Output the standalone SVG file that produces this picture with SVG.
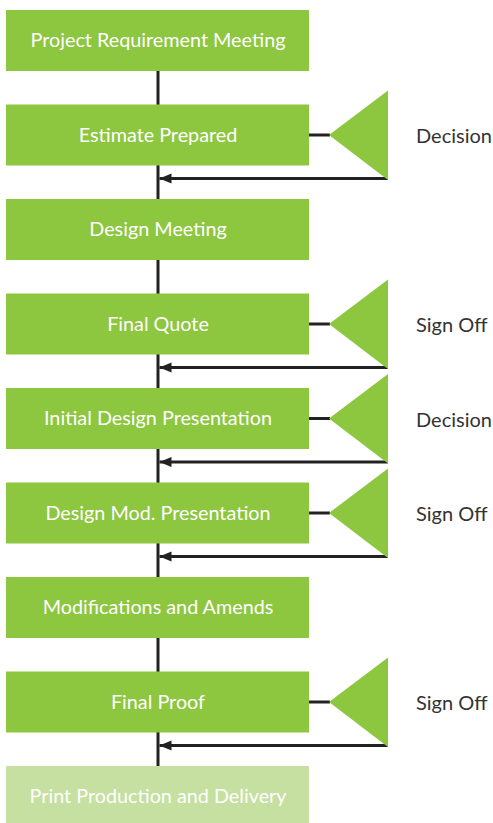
<svg xmlns="http://www.w3.org/2000/svg" width="493" height="823" viewBox="0 0 493 823">
<defs>
<style>
.box{fill:#8DC63F}
.box2{fill:#C5E0A0}
.t{font-family:Lato,"Open Sans",sans-serif;font-size:19.8px;fill:#fff;text-anchor:middle}
.lbl{font-family:Lato,"Open Sans",sans-serif;font-size:20px;fill:#333;text-anchor:start}
.tri{fill:#8DC63F}
.ln{stroke:#222;stroke-width:3;fill:none}
</style>
<marker id="ah" markerWidth="12" markerHeight="12" refX="12" refY="6" orient="auto" markerUnits="userSpaceOnUse" viewBox="0 0 12 12">
<path d="M0,1 L12,6 L0,11 Z" fill="#222"/>
</marker>
</defs>
<g id="connectors">
<line class="ln" x1="158" y1="71" x2="158" y2="766"/>
<line class="ln" x1="309" y1="135" x2="330" y2="135"/>
<line class="ln" x1="388" y1="178.5" x2="159.5" y2="178.5" marker-end="url(#ah)"/>
<line class="ln" x1="309" y1="324" x2="330" y2="324"/>
<line class="ln" x1="388" y1="367.5" x2="159.5" y2="367.5" marker-end="url(#ah)"/>
<line class="ln" x1="309" y1="418.5" x2="330" y2="418.5"/>
<line class="ln" x1="388" y1="462" x2="159.5" y2="462" marker-end="url(#ah)"/>
<line class="ln" x1="309" y1="513" x2="330" y2="513"/>
<line class="ln" x1="388" y1="556.5" x2="159.5" y2="556.5" marker-end="url(#ah)"/>
<line class="ln" x1="309" y1="702" x2="330" y2="702"/>
<line class="ln" x1="388" y1="745.5" x2="159.5" y2="745.5" marker-end="url(#ah)"/>
</g>
<g id="n1"><rect class="box" x="6" y="10" width="303" height="61"/><text class="t" x="158" y="47">Project Requirement Meeting</text></g>
<g id="n2"><rect class="box" x="6" y="104.5" width="303" height="61"/><text class="t" x="158" y="141.5">Estimate Prepared</text></g>
<g id="n3"><rect class="box" x="6" y="199" width="303" height="61"/><text class="t" x="158" y="236">Design Meeting</text></g>
<g id="n4"><rect class="box" x="6" y="293.5" width="303" height="61"/><text class="t" x="158" y="330.5">Final Quote</text></g>
<g id="n5"><rect class="box" x="6" y="388" width="303" height="61"/><text class="t" x="158" y="425">Initial Design Presentation</text></g>
<g id="n6"><rect class="box" x="6" y="482.5" width="303" height="61"/><text class="t" x="158" y="519.5">Design Mod. Presentation</text></g>
<g id="n7"><rect class="box" x="6" y="577" width="303" height="61"/><text class="t" x="158" y="614">Modifications and Amends</text></g>
<g id="n8"><rect class="box" x="6" y="671.5" width="303" height="61"/><text class="t" x="158" y="708.5">Final Proof</text></g>
<g id="n9"><rect class="box2" x="6" y="766" width="303" height="57"/><text class="t" x="158" y="803">Print Production and Delivery</text></g>
<g id="d1"><polygon class="tri" points="329,135 388,90.5 388,180"/><text class="lbl" x="416" y="143">Decision</text></g>
<g id="d2"><polygon class="tri" points="329,324 388,279.5 388,369"/><text class="lbl" x="416" y="332">Sign Off</text></g>
<g id="d3"><polygon class="tri" points="329,418.5 388,374 388,463.5"/><text class="lbl" x="416" y="426.5">Decision</text></g>
<g id="d4"><polygon class="tri" points="329,513 388,468.5 388,558"/><text class="lbl" x="416" y="521">Sign Off</text></g>
<g id="d5"><polygon class="tri" points="329,702 388,657.5 388,747"/><text class="lbl" x="416" y="710">Sign Off</text></g>
</svg>
